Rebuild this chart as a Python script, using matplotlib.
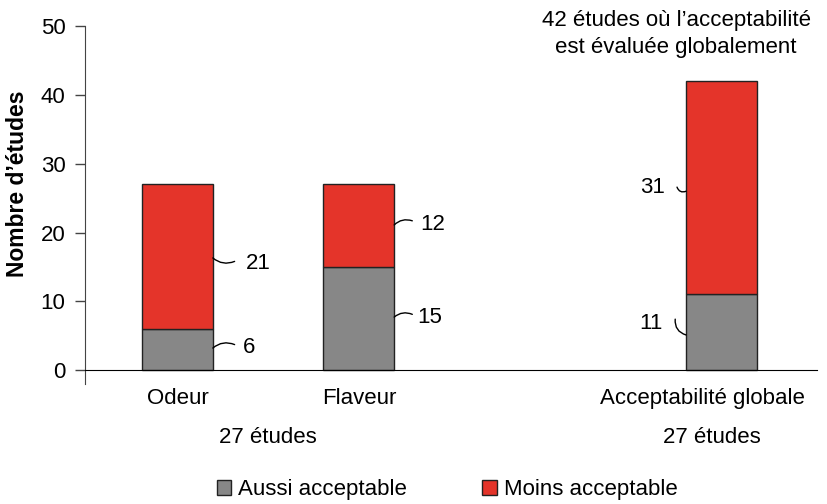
import matplotlib.pyplot as plt
from matplotlib.patches import Patch

plt.rcParams['font.family'] = ['Liberation Sans', 'DejaVu Sans']
plt.rcParams['font.size'] = 16

categories = ["Odeur", "Flaveur", "Acceptabilité globale"]
positions = [0, 1, 3]
aussi = [6, 15, 11]
moins = [21, 12, 31]
gray = "#878787"
red = "#e4342a"

fig = plt.figure(figsize=(8.28, 5.04), dpi=100)
ax = fig.add_axes([0.1027, 0.2385, 0.884, 0.7095])

w = 0.39
ax.bar(positions, aussi, width=w, color=gray, edgecolor="#222222", linewidth=1)
ax.bar(positions, moins, width=w, bottom=aussi, color=red, edgecolor="#222222", linewidth=1)

ax.set_xlim(-0.51, 3.527)
ax.set_ylim(-2, 50)
ax.set_yticks([0, 10, 20, 30, 40, 50])
ax.spines['top'].set_visible(False)
ax.spines['right'].set_visible(False)
ax.spines['bottom'].set_position(('data', 0))
ax.spines['left'].set_bounds(-2, 50)
ax.spines['left'].set_color("#444444")
ax.tick_params(axis='y', length=7, width=1, pad=7, color="#444444")
# the last category label sits a little left of its bar
ax.set_xticks([0, 1, 2.893])
ax.set_xticklabels(categories)
ax.tick_params(axis='x', length=0, pad=13)
ax.set_ylabel("Nombre d’études", fontweight='bold', fontsize=16.5)
ax.yaxis.set_label_coords(-0.077, 0.56)


def leader(x0, y0, x1, y1, rad):
    ax.annotate("", xy=(x0, y0), xytext=(x1, y1),
                arrowprops=dict(arrowstyle='-', lw=1, color='black',
                                connectionstyle="arc3,rad=%s" % rad,
                                shrinkA=0, shrinkB=0))


half = w / 2
for i, p in enumerate(positions):
    a, m = aussi[i], moins[i]
    ma, mm = a / 2, a + m / 2
    if p < 3:
        e = p + half
        if p == 0:
            leader(e, mm - 0.2, e + 0.12, mm - 0.7, -0.3)
            ax.text(e + 0.18, mm - 1.0, str(m), va='center', ha='left')
            leader(e, ma + 0.2, e + 0.12, ma + 0.7, 0.3)
            ax.text(e + 0.165, ma + 0.3, str(a), va='center', ha='left')
        else:
            leader(e, mm + 0.1, e + 0.1, mm + 0.7, 0.3)
            ax.text(e + 0.145, mm + 0.2, str(m), va='center', ha='left')
            leader(e, ma + 0.2, e + 0.1, ma + 0.6, 0.3)
            ax.text(e + 0.13, ma + 0.2, str(a), va='center', ha='left')
    else:
        e = p - half
        leader(e, mm - 0.5, e - 0.05, mm + 0.1, 0.5)
        ax.text(e - 0.116, mm, str(m), va='center', ha='right')
        leader(e, ma - 0.4, e - 0.06, ma + 1.9, 0.4)
        ax.text(e - 0.13, ma + 1.3, str(a), va='center', ha='right')

ax.text(2.75, 50.87, "42 études où l’acceptabilité", ha='center', va='center')
ax.text(2.75, 46.95, "est évaluée globalement", ha='center', va='center')
ax.text(0.5, -9.74, "27 études", ha='center', va='center')
ax.text(2.95, -9.74, "27 études", ha='center', va='center')

handles = [Patch(facecolor=gray, edgecolor="#222222", label="Aussi acceptable"),
           Patch(facecolor=red, edgecolor="#222222", label="Moins acceptable")]
fig.legend(handles=handles, loc='center', bbox_to_anchor=(0.54, 0.028), ncol=2,
           frameon=False, handlelength=0.65, handleheight=0.65,
           handletextpad=0.3, columnspacing=3.4, borderpad=0, borderaxespad=0)

fig.savefig("out.png", dpi=100)
